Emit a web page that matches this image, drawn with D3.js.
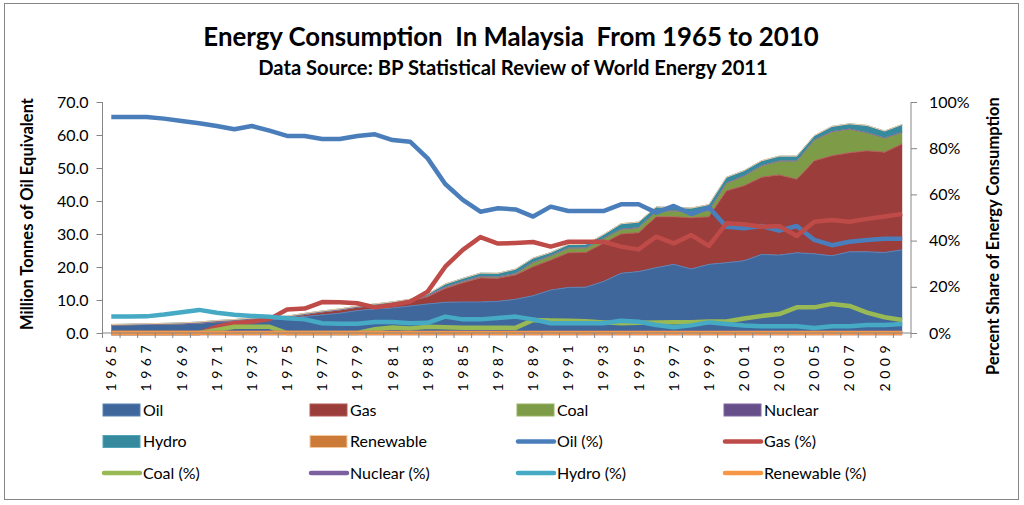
<!DOCTYPE html>
<meta charset="utf-8">
<style>
body { margin: 0; background: #fff; }
svg text { font-family: Lato, "Open Sans", sans-serif; fill: #000; }
.axis path, .axis line { stroke: #868686; }
</style>
<body>
<svg id="chart" width="1024" height="505"></svg>
<script src="https://cdnjs.cloudflare.com/ajax/libs/d3/7.8.5/d3.min.js"></script>
<script>
// years on the category axis
var years = d3.range(1965, 2011);

// Million tonnes oil equivalent (stacked areas)
var oil = [2.4, 2.5, 2.6, 2.7, 2.8, 3.0, 3.3, 3.5, 3.9, 4.0,
           4.3, 5.0, 5.5, 6.0, 6.8, 7.3, 7.6, 8.2, 8.8, 9.3,
           9.4, 9.4, 9.6, 10.2, 11.3, 13.0, 13.8, 13.9, 15.6, 18.1,
           18.6, 19.8, 20.8, 19.4, 20.8, 21.3, 21.9, 23.8, 23.6, 24.3,
           24.0, 23.4, 24.6, 24.6, 24.4, 25.2];
var gas = [0, 0, 0, 0, 0, 0, 0.1, 0.15, 0.2, 0.3,
           0.5, 0.6, 0.9, 1.0, 1.0, 1.0, 1.2, 1.4, 2.2, 4.2,
           5.8, 7.3, 7.0, 7.4, 8.8, 9.1, 10.5, 10.5, 11.6, 11.9,
           11.8, 15.4, 14.4, 15.5, 14.4, 21.8, 22.7, 23.4, 24.3, 22.3,
           28.2, 30.3, 30.0, 30.6, 30.4, 32.1];
var coal = [0, 0, 0, 0, 0, 0, 0.05, 0.12, 0.12, 0.12,
            0, 0, 0, 0, 0, 0.1, 0.2, 0.2, 0.3, 0.35,
            0.4, 0.4, 0.4, 0.4, 1.3, 1.3, 1.4, 1.4, 1.4, 1.4,
            1.5, 1.7, 1.8, 1.7, 1.9, 2.3, 3.0, 3.5, 4.2, 5.5,
            6.3, 7.3, 7.2, 5.5, 4.3, 3.5];
var nuclear = years.map(function() { return 0; });
var hydro = [0.18, 0.19, 0.2, 0.23, 0.27, 0.33, 0.33, 0.32, 0.33, 0.31,
             0.32, 0.35, 0.28, 0.3, 0.34, 0.41, 0.43, 0.41, 0.5, 0.98,
             0.96, 1.05, 1.1, 1.35, 1.3, 1.0, 1.1, 1.1, 1.2, 1.7,
             1.7, 1.3, 1.0, 1.25, 1.8, 1.8, 1.6, 1.5, 1.5, 1.5,
             1.3, 1.6, 1.6, 2.2, 2.1, 2.4];
var renewable = years.map(function() { return 0; });

// percent share lines (right axis)
var oilPct = [93.5, 93.5, 93.5, 92.8, 91.8, 90.8, 89.6, 88.2, 89.6, 87.6,
              85.3, 85.3, 84.0, 84.0, 85.3, 86.0, 83.5, 82.8, 75.6, 64.5,
              57.6, 52.5, 54.0, 53.5, 50.4, 54.7, 52.8, 52.8, 52.8, 55.7,
              55.7, 52.1, 55.0, 51.5, 54.4, 46.0, 45.3, 46.3, 44.3, 46.3,
              40.3, 38.0, 39.5, 40.3, 40.8, 40.8];
var gasPct = [0, 0, 0, 0, 0, 0, 2.7, 4.2, 4.9, 6.0,
              10.2, 10.6, 13.4, 13.3, 12.9, 11.1, 12.1, 13.6, 17.9, 28.7,
              36.0, 41.5, 38.7, 39.0, 39.4, 37.4, 39.5, 39.5, 39.5, 37.4,
              36.2, 41.7, 38.8, 42.4, 37.7, 47.5, 47.1, 46.0, 46.3, 42.0,
              48.2, 48.9, 48.2, 49.4, 50.4, 51.5];
var coalPct = [0, 0, 0, 0, 0, 0, 1.3, 2.7, 2.7, 2.7,
               0, 0, 0, 0, 0, 1.6, 2.4, 2.0, 2.7, 2.5,
               2.3, 2.3, 2.3, 2.2, 5.6, 5.4, 5.3, 5.1, 4.6, 4.2,
               4.4, 4.5, 4.6, 4.7, 5.0, 5.0, 6.3, 7.4, 8.2, 11.1,
               11.1, 12.6, 11.7, 8.8, 6.8, 5.6];
var nuclearPct = years.map(function() { return 0; });
var hydroPct = [7.1, 7.1, 7.2, 8.0, 9.0, 10.0, 8.8, 7.9, 7.4, 7.0,
                6.4, 5.9, 4.2, 4.0, 4.0, 4.8, 4.8, 4.2, 4.4, 7.1,
                5.9, 5.9, 6.5, 7.1, 5.9, 4.2, 4.2, 4.2, 4.2, 5.3,
                4.9, 3.5, 2.5, 3.3, 4.6, 3.9, 3.2, 2.9, 2.9, 2.9,
                2.2, 2.9, 2.9, 3.5, 3.5, 3.9];
var renewablePct = years.map(function() { return 0; });

var leftTicks = [0, 10, 20, 30, 40, 50, 60, 70];
var rightTicks = [0, 20, 40, 60, 80, 100];

var svg = d3.select("#chart");
var plotLeft = 102.5, plotRight = 911, plotTop = 102, plotBottom = 333;

var x = d3.scaleBand().domain(years).range([plotLeft, plotRight]);
var cx = function(yr) { return x(yr) + x.bandwidth() / 2; };
var yL = d3.scaleLinear().domain([0, 70]).range([plotBottom, plotTop]);
var yR = d3.scaleLinear().domain([0, 100]).range([plotBottom, plotTop]);

// outer frame
svg.append("rect").attr("x", 4.5).attr("y", 3.5).attr("width", 1014).attr("height", 496)
   .attr("fill", "#fff").attr("stroke", "#868686");

// titles
svg.append("text").attr("x", 511).attr("y", 46).attr("text-anchor", "middle")
   .style("font-size", "25.8px").style("font-weight", "bold")
   .style("white-space", "pre").text("Energy Consumption  In Malaysia  From 1965 to 2010");
svg.append("text").attr("x", 513).attr("y", 75).attr("text-anchor", "middle")
   .style("font-size", "20.2px").style("font-weight", "bold")
   .text("Data Source: BP Statistical Review of World Energy 2011");

// stacked areas
var table = years.map(function(yr, i) {
  return { year: yr, oil: oil[i], gas: gas[i], coal: coal[i], nuclear: nuclear[i],
           hydro: hydro[i], renewable: renewable[i] };
});
var keys = ["oil", "gas", "coal", "nuclear", "hydro", "renewable"];
var areaFill = { oil: "#3f679c", gas: "#9a3d3b", coal: "#7e9b48", nuclear: "#674f8a",
                 hydro: "#358a9e", renewable: "#cc7a37" };
var areaEdge = { oil: "#5a82b6", gas: "#b45a57", coal: "#97b263", nuclear: "#8169a3",
                 hydro: "#52a3b8", renewable: "#f4c9a0" };
var stack = d3.stack().keys(keys)(table);
var area = d3.area()
  .x(function(d) { return cx(d.data.year); })
  .y0(function(d) { return yL(d[0]); })
  .y1(function(d) { return yL(d[1]); });
var topLine = d3.line()
  .x(function(d) { return cx(d.data.year); })
  .y(function(d) { return yL(d[1]); });

svg.selectAll(".area").data(stack).enter().append("path")
   .attr("class", "area").attr("d", area)
   .attr("fill", function(d) { return areaFill[d.key]; });
svg.selectAll(".edge").data(stack).enter().append("path")
   .attr("class", "edge").attr("d", topLine).attr("fill", "none")
   .attr("stroke", function(d) { return areaEdge[d.key]; })
   .attr("stroke-width", 1);

// percent lines
var pctSeries = [
  { name: "Oil (%)", values: oilPct, color: "#4a7ebb" },
  { name: "Gas (%)", values: gasPct, color: "#be4b48" },
  { name: "Coal (%)", values: coalPct, color: "#98b954" },
  { name: "Nuclear (%)", values: nuclearPct, color: "#7d60a0" },
  { name: "Hydro (%)", values: hydroPct, color: "#46aac5" },
  { name: "Renewable (%)", values: renewablePct, color: "#f79646" }
];
var pctLine = d3.line()
  .x(function(d, i) { return cx(years[i]); })
  .y(function(d) { return yR(d); });
svg.selectAll(".pct").data(pctSeries).enter().append("path")
   .attr("class", "pct").attr("d", function(s) { return pctLine(s.values); })
   .attr("fill", "none").attr("stroke", function(s) { return s.color; })
   .attr("stroke-width", 4.5).attr("stroke-linejoin", "round");

// axes
var gL = svg.append("g").attr("class", "axis").attr("transform", "translate(" + plotLeft + ",0)")
  .call(d3.axisLeft(yL).tickValues(leftTicks).tickSize(6).tickPadding(8)
        .tickFormat(d3.format(".1f")));
gL.selectAll("text").style("font-size", "16px").style("font-family", "Lato");
gL.select(".domain").attr("d", "M0," + plotTop + "V" + plotBottom);

var gR = svg.append("g").attr("class", "axis").attr("transform", "translate(" + plotRight + ",0)")
  .call(d3.axisRight(yR).tickValues(rightTicks).tickSize(6).tickPadding(12)
        .tickFormat(function(d) { return d + "%"; }));
gR.selectAll("text").style("font-size", "16px").style("font-family", "Lato");
gR.select(".domain").attr("d", "M0," + plotTop + "V" + plotBottom);

// category axis: ticks between categories, labels every other year
var gX = svg.append("g").attr("class", "axis");
gX.append("line").attr("x1", plotLeft).attr("x2", plotRight).attr("y1", plotBottom).attr("y2", plotBottom);
gX.selectAll(".tk").data(years.concat([2011])).enter().append("line")
  .attr("x1", function(yr) { return yr === 2011 ? plotRight : x(yr); })
  .attr("x2", function(yr) { return yr === 2011 ? plotRight : x(yr); })
  .attr("y1", plotBottom).attr("y2", plotBottom + 5);
svg.selectAll(".xl").data(years.filter(function(yr) { return (yr - 1965) % 2 === 0; }))
  .enter().append("text")
  .attr("transform", function(yr) { return "translate(" + (cx(yr) + 5) + "," + (plotBottom + 8) + ") rotate(-90)"; })
  .attr("text-anchor", "end")
  .style("font-size", "14px").style("letter-spacing", "4.5px")
  .text(function(yr) { return yr; });

// axis titles
svg.append("text").attr("transform", "translate(33,214) rotate(-90)")
   .attr("text-anchor", "middle").style("font-size", "16.5px").style("font-weight", "bold")
   .text("Million Tonnes of Oil Equivalent");
svg.append("text").attr("transform", "translate(999,236) rotate(-90)")
   .attr("text-anchor", "middle").style("font-size", "16.5px").style("font-weight", "bold")
   .text("Percent Share of Energy Consumption");

// legend
var legendItems = [
  { name: "Oil", type: "area", key: "oil" },
  { name: "Gas", type: "area", key: "gas" },
  { name: "Coal", type: "area", key: "coal" },
  { name: "Nuclear", type: "area", key: "nuclear" },
  { name: "Hydro", type: "area", key: "hydro" },
  { name: "Renewable", type: "area", key: "renewable" }
].concat(pctSeries.map(function(s) { return { name: s.name, type: "line", color: s.color }; }));

var lg = svg.selectAll(".lg").data(legendItems).enter().append("g")
  .attr("transform", function(d, i) {
    return "translate(" + (103 + (i % 4) * 207) + "," + (410 + Math.floor(i / 4) * 31.5) + ")";
  });
lg.filter(function(d) { return d.type === "area"; }).append("rect")
  .attr("x", 0).attr("y", -6).attr("width", 37).attr("height", 12)
  .attr("fill", function(d) { return areaFill[d.key]; })
  .attr("stroke", function(d) { return areaEdge[d.key]; });
lg.filter(function(d) { return d.type === "line"; }).append("line")
  .attr("x1", 1).attr("x2", 37).attr("y1", 0).attr("y2", 0)
  .attr("stroke", function(d) { return d.color; })
  .attr("stroke-width", 4.5).attr("stroke-linecap", "round");
lg.append("text").attr("x", 40).attr("y", 0).attr("dy", "0.35em")
  .style("font-size", "16px").text(function(d) { return d.name; });
</script>
</body>
